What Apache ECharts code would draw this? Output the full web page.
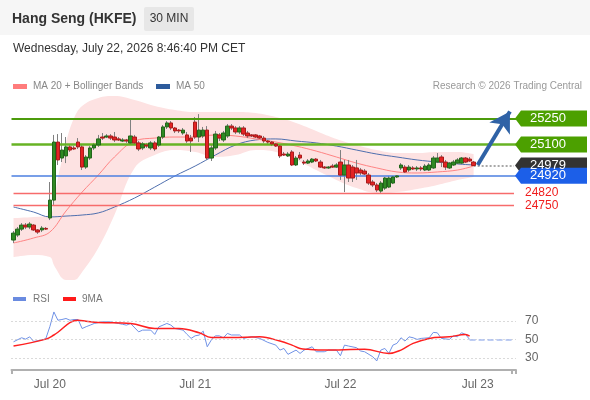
<!DOCTYPE html>
<html><head><meta charset="utf-8">
<script src="https://cdn.jsdelivr.net/npm/echarts@6/dist/echarts.min.js"></script>
<style>html,body{margin:0;padding:0;background:#fff}#c{width:590px;height:400px}</style>
</head><body><div id="c"></div>
<script>
// ---------- data ----------
const SLOTS = 125;
const tickIdx = [9, 45, 81, 115];
const tickLabels = ['Jul 20', 'Jul 21', 'Jul 22', 'Jul 23'];

const open = [24550,24579,24613,24636,24625,24636,24608,24608,24617,24677,
24780,25114,25022,25034,25086,25080,25114,25086,24970,25022,
25080,25097,25143,25143,25149,25143,25132,25120,25126,25109,
25143,25109,25080,25097,25080,25109,25097,25143,25201,25224,
25195,25183,25166,25155,25137,25229,25143,25149,25183,25022,
25080,25155,25126,25149,25206,25195,25172,25195,25166,25155,
25155,25149,25137,25120,25114,25103,25091,25045,25034,25057,
24982,25039,24999,24993,24999,25016,24999,24970,24965,24976,
24970,24999,24924,24982,24970,24965,24953,24947,24924,24884,
24867,24832,24849,24855,24878,24913,24965,24970,24953,24965,
24959,24965,24953,24953,24965,24999,25028,24999,24965,24982,
24993,24993,25022,25016,24999];
const close = [24590,24613,24636,24625,24642,24608,24596,24619,24613,24780,
25114,25011,25068,25086,25068,25074,25086,24970,25028,25080,
25097,25132,25137,25149,25137,25126,25126,25126,25120,25149,
25109,25074,25103,25091,25109,25074,25143,25201,25224,25195,
25178,25178,25183,25120,25120,25143,25183,25183,25022,25080,
25160,25137,25166,25206,25195,25172,25195,25160,25149,25149,
25143,25137,25120,25114,25103,25091,25034,25039,25045,24982,
25022,25022,24993,25005,25016,25005,24970,24965,24970,24970,
24982,24924,24982,24907,24907,24936,24936,24930,24878,24867,
24838,24878,24907,24907,24913,24919,24982,24942,24970,24959,
24965,24959,24976,24982,25022,25022,24999,24970,24993,24999,
25011,25022,24999,25005,24979];
const low = [24533,24567,24602,24613,24613,24602,24585,24596,24608,24665,
24752,24982,24999,24993,25057,25068,25074,24953,24959,25011,
25068,25086,25126,25137,25126,25114,25120,25114,25109,25103,
25097,25062,25068,25080,25068,25062,25086,25132,25189,25183,
25166,25166,25155,25109,25057,25132,25114,25137,25011,25005,
25068,25120,25114,25137,25183,25160,25160,25149,25137,25143,
25137,25132,25109,25103,25091,25086,25022,25034,25028,24976,
24976,25011,24982,24988,24993,24999,24965,24959,24959,24965,
24965,24896,24826,24884,24884,24896,24924,24924,24867,24855,
24826,24821,24838,24849,24872,24907,24953,24936,24942,24953,
24947,24947,24947,24947,24959,24993,24970,24953,24959,24976,
24988,24988,24993,24999,24976];
const high = [24602,24625,24648,24648,24654,24642,24613,24631,24625,24884,
25155,25160,25166,25143,25097,25091,25137,25097,25039,25091,
25109,25155,25166,25160,25160,25172,25143,25137,25132,25241,
25155,25120,25114,25109,25120,25120,25149,25212,25235,25235,
25201,25189,25195,25172,25155,25258,25275,25201,25206,25097,
25178,25166,25178,25218,25218,25206,25206,25206,25178,25160,
25160,25155,25149,25126,25120,25109,25103,25057,25057,25068,
25034,25057,25011,25016,25022,25022,25011,24976,24976,24988,
24993,25068,25011,25011,24982,25011,24965,24959,24936,24896,
24878,24890,24913,24919,24919,24924,24993,24982,24982,24976,
24976,24976,24988,24993,25034,25051,25039,25011,24999,25011,
25022,25028,25028,25028,25005];

const bandIdx = [0,5,9,10,11,12,13,15,17,21,25,30,35,40,45,50,55,60,65,70,75,80,85,90,95,100,105,110,114];
const bbUpper = [24677,24683,24694,24780,24907,25011,25114,25252,25322,25368,25379,25356,25322,25299,25287,25287,25287,25281,25258,25224,25178,25132,25097,25068,25051,25051,25057,25057,25045];
const bbLower = [24452,24464,24452,24406,24366,24331,24320,24320,24366,24504,24694,24965,25039,25068,25057,25028,25039,25068,25057,25011,24953,24896,24849,24821,24826,24844,24867,24896,24913];

const maIdx = [0,5,9,13,17,21,25,30,35,40,45,50,55,60,65,70,75,80,85,90,95,100,105,110,114];
const ma20 = [24533,24562,24596,24717,24826,24924,25028,25120,25137,25143,25143,25155,25149,25132,25114,25091,25062,25028,24993,24965,24942,24936,24942,24953,24976];
const ma50 = [24740,24711,24683,24688,24694,24706,24740,24792,24855,24919,24976,25039,25097,25126,25132,25120,25109,25091,25068,25045,25028,25011,24999,24988,24982];

const resistances = [25250, 25100];
const supportMain = 24920;
const supportsMinor = [24820, 24750];
const lastPrice = 24979;
const targetPrice = 25290;

const rsiIdx = [0,2,3,4,5,7,8,9,10,11,12,13,14,15,16,17,18,19,20,22,24,26,27,28,29,31,32,34,35,36,38,39,40,42,43,44,45,46,47,48,49,50,51,52,53,54,56,57,59,61,63,65,66,67,68,70,71,72,74,75,77,78,80,81,82,83,85,86,87,89,90,91,92,93,94,95,96,97,98,99,100,101,103,104,105,106,108,109,110,111,112,113];
const rsiVal = [47.6,52,50.5,53,48,49.5,51,64,80,71,71.8,72.9,71,71.8,71.8,62,64,65.7,67.5,69.3,69.3,67.5,66.6,65.7,67.5,58.4,60.3,60.3,55.6,63.8,67.5,65.7,62,60.3,55.6,51.3,54.1,54.9,59.2,42.2,49.5,54.1,54.1,51.9,56.7,55,55,51.3,53.2,51.3,47,44,38.6,40.4,34,38.6,35,38.6,42.2,36.8,36.8,38.6,38.6,32.5,44,43,41.2,37.6,36.8,31.4,26.8,38.6,40.4,35,44,45.9,52,48.4,53,52,50.2,51.3,52,57.8,57.4,51.3,50.2,54.1,53,57.4,55.6,50.2];
const ma9Idx = [0,8,10,16,18,21,29,35,41,46,49,54,61,66,69,71,73,77,87,93,96,99,103,108,112,113];
const ma9Val = [43,50.5,55,71,70,68.6,67.5,62,62,57.4,52.3,52.3,53,48.4,44,40.4,39.4,38.6,39.4,35,38.6,45.9,51.3,53,55.6,53.8];
const rsiLevels = [70, 50, 30];
const rsiLast = 50.2;

// ---------- build ----------
const cats = Array.from({length: SLOTS}, (_, i) => String(i));
const pairs = (ix, vs) => ix.map((x, i) => [x, vs[i]]);
const bandWidth = bbUpper.map((u, i) => u - bbLower[i]);
const wickData = open.map((o, i) => [o, close[i], low[i], high[i]]);
const bodyData = open.map((o, i) => [o, close[i], Math.min(o, close[i]), Math.max(o, close[i])]);
const lastIdx = open.length - 1;
const FONT = 'Liberation Sans, Arial, sans-serif';
const boxPath = 'path://M0,8 L6,0 L72,0 L72,16 L6,16 Z';

const chart = echarts.init(document.getElementById('c'), null, {renderer: 'canvas'});
chart.setOption({
  animation: false,
  textStyle: {fontFamily: FONT},
  grid: [
    {left: 11.5, top: 75, width: 504.5, height: 205},
    {left: 11.5, top: 305.5, width: 504.5, height: 64.5}
  ],
  xAxis: [
    {type: 'category', data: cats, gridIndex: 0, show: false, boundaryGap: true},
    {type: 'category', data: cats, gridIndex: 1, boundaryGap: true,
      axisLine: {lineStyle: {color: '#b0b0b0', width: 2}},
      axisTick: {show: true, interval: (i) => i === 0 || i === SLOTS - 1, length: 4, lineStyle: {color: '#b0b0b0', width: 2}},
      axisLabel: {interval: (i) => tickIdx.includes(i), formatter: (v, i) => {const k = tickIdx.indexOf(i); return k >= 0 ? tickLabels[k] : '';}, color: '#666', fontSize: 12, margin: 9},
      splitLine: {show: false}}
  ],
  yAxis: [
    {gridIndex: 0, min: 24320, max: 25500, show: false, splitLine: {show: false}},
    {gridIndex: 1, min: 17, max: 87, show: false, splitLine: {show: false}}
  ],
  graphic: [
    {type: 'rect', shape: {x: 0, y: 0, width: 590, height: 35}, style: {fill: '#f6f6f6'}, z: -10},
    {type: 'text', x: 12, y: 19, style: {text: 'Hang Seng (HKFE)', font: 'bold 14px ' + FONT, fill: '#333', verticalAlign: 'middle'}},
    {type: 'rect', shape: {x: 144, y: 7, width: 50, height: 24, r: 2}, style: {fill: '#e7e7e7'}},
    {type: 'text', x: 169, y: 19, style: {text: '30 MIN', font: '12px ' + FONT, fill: '#333', align: 'center', verticalAlign: 'middle'}},
    {type: 'text', x: 13, y: 49, style: {text: 'Wednesday, July 22, 2026 8:46:40 PM CET', font: '12px ' + FONT, fill: '#333', verticalAlign: 'middle'}},
    {type: 'rect', shape: {x: 13, y: 84, width: 14, height: 5}, style: {fill: '#ff7c7c'}},
    {type: 'text', x: 33, y: 86.5, style: {text: 'MA 20 + Bollinger Bands', font: '10px ' + FONT, fill: '#888', verticalAlign: 'middle'}},
    {type: 'rect', shape: {x: 156, y: 84, width: 14, height: 5}, style: {fill: '#2d5b9c'}},
    {type: 'text', x: 176, y: 86.5, style: {text: 'MA 50', font: '10px ' + FONT, fill: '#888', verticalAlign: 'middle'}},
    {type: 'text', x: 582, y: 86.5, style: {text: 'Research \u00a9 2026 Trading Central', font: '10px ' + FONT, fill: '#999', align: 'right', verticalAlign: 'middle'}},
    {type: 'rect', shape: {x: 13, y: 297, width: 13, height: 4}, style: {fill: '#6a8be0'}},
    {type: 'text', x: 33, y: 299, style: {text: 'RSI', font: '10px ' + FONT, fill: '#777', verticalAlign: 'middle'}},
    {type: 'rect', shape: {x: 63, y: 297, width: 13, height: 4}, style: {fill: '#ff1a1a'}},
    {type: 'text', x: 82, y: 299, style: {text: '9MA', font: '10px ' + FONT, fill: '#777', verticalAlign: 'middle'}}
  ],
  series: [
    {type: 'line', name: 'bbLow', xAxisIndex: 0, yAxisIndex: 0, data: pairs(bandIdx, bbLower), stack: 'bb', smooth: 0.4, symbol: 'none', silent: true, z: 1,
      lineStyle: {width: 0, opacity: 0}},
    {type: 'line', name: 'bbBand', xAxisIndex: 0, yAxisIndex: 0, data: pairs(bandIdx, bandWidth), stack: 'bb', smooth: 0.4, symbol: 'none', silent: true, z: 1,
      lineStyle: {width: 0, opacity: 0}, areaStyle: {color: '#fde2e2', opacity: 1}},
    {type: 'line', name: 'MA 50', xAxisIndex: 0, yAxisIndex: 0, data: pairs(maIdx, ma50), smooth: 0.4, symbol: 'none', silent: true, z: 3,
      lineStyle: {width: 1, color: '#4f6fae'}},
    {type: 'line', name: 'MA 20', xAxisIndex: 0, yAxisIndex: 0, data: pairs(maIdx, ma20), smooth: 0.4, symbol: 'none', silent: true, z: 3,
      lineStyle: {width: 1, color: '#ff8484'}},
    {type: 'candlestick', name: 'wick', xAxisIndex: 0, yAxisIndex: 0, data: wickData, barWidth: 1, silent: true, z: 4,
      itemStyle: {color: '#808080', color0: '#808080', borderColor: '#808080', borderColor0: '#808080', borderWidth: 1}},
    {type: 'candlestick', name: 'body', xAxisIndex: 0, yAxisIndex: 0, data: bodyData, barWidth: 4, silent: true, z: 5,
      itemStyle: {color: '#2f8a23', color0: '#e32323', borderColor: '#22661a', borderColor0: '#a81a1a', borderWidth: 1},
      markLine: {
        silent: true, symbol: ['none', 'none'], label: {show: false},
        data: [
          {yAxis: resistances[0], lineStyle: {color: '#4c9b0c', width: 2, type: 'solid'}},
          {yAxis: resistances[1], lineStyle: {color: '#67b324', width: 2.5, type: 'solid'}},
          {yAxis: supportMain, lineStyle: {color: '#4b7fe0', width: 1.5, type: 'solid'}},
          [{coord: [0, supportsMinor[0]], lineStyle: {color: '#f76b6b', width: 1.4, type: 'solid'},
            label: {show: true, position: 'end', distance: 11, formatter: String(supportsMinor[0]), color: '#f01d1d', fontSize: 12}},
           {coord: [SLOTS - 1, supportsMinor[0]]}],
          [{coord: [0, supportsMinor[1]], lineStyle: {color: '#f76b6b', width: 1.4, type: 'solid'},
            label: {show: true, position: 'end', distance: 11, formatter: String(supportsMinor[1]), color: '#f01d1d', fontSize: 12}},
           {coord: [SLOTS - 1, supportsMinor[1]]}],
          [{coord: [lastIdx, lastPrice], lineStyle: {color: '#a8a8a8', width: 2, type: 'dotted'}}, {coord: [SLOTS - 1, lastPrice]}],
          [{coord: [lastIdx + 1, lastPrice + 3], symbol: 'none', lineStyle: {color: '#2f62a6', width: 4, type: 'solid'}},
           {coord: [SLOTS - 2, targetPrice], symbol: 'arrow', symbolSize: [18, 20]}]
        ]
      },
      markPoint: {
        silent: true, symbol: boxPath, symbolSize: [72, 16], symbolOffset: [37, 0],
        label: {show: true, color: '#fff', fontSize: 13, formatter: (p) => String(p.value), offset: [-3, 0]},
        data: [
          {coord: [SLOTS - 1, resistances[0]], value: resistances[0], itemStyle: {color: '#4ca000'}},
          {coord: [SLOTS - 1, resistances[1]], value: resistances[1], itemStyle: {color: '#4ca000'}},
          {coord: [SLOTS - 1, lastPrice], value: lastPrice, itemStyle: {color: '#333333'}},
          {coord: [SLOTS - 1, supportMain], value: supportMain, itemStyle: {color: '#1c5fe8'}}
        ]
      }
    },
    {type: 'line', name: 'RSI', xAxisIndex: 1, yAxisIndex: 1, data: pairs(rsiIdx, rsiVal), symbol: 'none', silent: true, z: 3,
      lineStyle: {width: 1, color: '#7092e6'},
      markLine: {
        silent: true, symbol: ['none', 'none'],
        label: {show: true, position: 'end', distance: 9, color: '#666', fontSize: 12, formatter: '{c}'},
        lineStyle: {color: '#b5b5b5', type: [1, 3], width: 1},
        data: rsiLevels.map(v => ({yAxis: v})).concat([
          [{coord: [rsiIdx[rsiIdx.length - 1], rsiLast], lineStyle: {color: '#a9bdf0', type: 'dashed', width: 1.5}, label: {show: false}},
           {coord: [SLOTS - 1, rsiLast]}]
        ])
      }},
    {type: 'line', name: '9MA', xAxisIndex: 1, yAxisIndex: 1, data: pairs(ma9Idx, ma9Val), smooth: 0.4, symbol: 'none', silent: true, z: 4,
      lineStyle: {width: 1.5, color: '#ff2020'}}
  ]
});
</script></body></html>
